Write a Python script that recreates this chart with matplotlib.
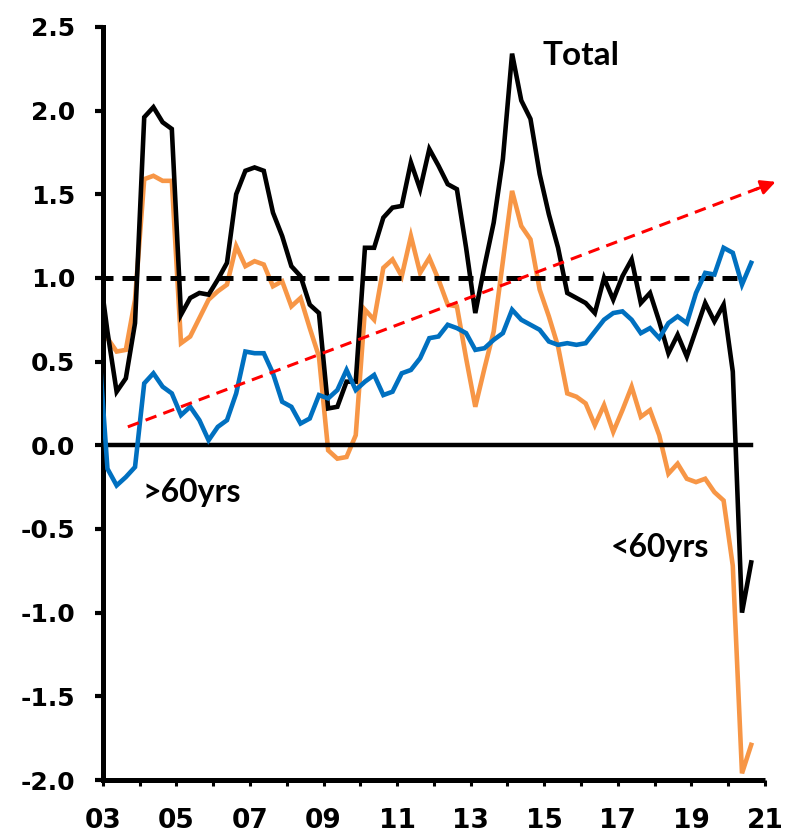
import numpy as np
import matplotlib
matplotlib.use('Agg')
import matplotlib.pyplot as plt

# quarterly series, first value (2002Q4) sits just left of the axis and is clipped
start_year = 2002.875
total = [1.10, 0.68, 0.32, 0.40, 0.73, 1.96, 2.02, 1.93, 1.89, 0.78, 0.88, 0.91,
         0.90, 0.99, 1.09, 1.50, 1.64, 1.66, 1.64, 1.39, 1.25, 1.07, 1.01, 0.84,
         0.79, 0.22, 0.23, 0.38, 0.38, 1.18, 1.18, 1.36, 1.42, 1.43, 1.69, 1.53,
         1.77, 1.67, 1.56, 1.53, 1.18, 0.79, 1.07, 1.33, 1.71, 2.34, 2.06, 1.95,
         1.62, 1.38, 1.18, 0.91, 0.88, 0.85, 0.79, 1.00, 0.87, 1.01, 1.11, 0.85,
         0.91, 0.74, 0.55, 0.66, 0.53, 0.69, 0.85, 0.74, 0.84, 0.44, -1.00, -0.70]
under60 = [0.85, 0.64, 0.56, 0.57, 0.87, 1.59, 1.61, 1.58, 1.58, 0.61, 0.65, 0.76,
           0.87, 0.92, 0.96, 1.19, 1.07, 1.10, 1.08, 0.95, 0.98, 0.83, 0.88, 0.70,
           0.53, -0.03, -0.08, -0.07, 0.06, 0.81, 0.75, 1.06, 1.11, 1.01, 1.25, 1.03,
           1.12, 0.99, 0.84, 0.83, 0.52, 0.23, 0.46, 0.68, 1.10, 1.52, 1.31, 1.23,
           0.93, 0.77, 0.59, 0.31, 0.29, 0.25, 0.12, 0.24, 0.08, 0.21, 0.35, 0.17,
           0.21, 0.06, -0.17, -0.11, -0.20, -0.22, -0.20, -0.28, -0.33, -0.72, -1.96, -1.79]
over60 = [0.65, -0.14, -0.24, -0.19, -0.13, 0.37, 0.43, 0.35, 0.31, 0.18, 0.23, 0.15,
          0.03, 0.11, 0.15, 0.31, 0.56, 0.55, 0.55, 0.43, 0.26, 0.23, 0.13, 0.16,
          0.30, 0.28, 0.33, 0.45, 0.33, 0.38, 0.42, 0.30, 0.32, 0.43, 0.45, 0.52,
          0.64, 0.65, 0.72, 0.70, 0.67, 0.57, 0.58, 0.63, 0.67, 0.81, 0.75, 0.72,
          0.69, 0.62, 0.60, 0.61, 0.60, 0.61, 0.68, 0.75, 0.79, 0.80, 0.75, 0.67,
          0.70, 0.64, 0.73, 0.77, 0.73, 0.91, 1.03, 1.02, 1.18, 1.15, 0.96, 1.09]

years = list(range(2003, 2022))
year_labels = [f'{y % 100:02d}' if y % 2 == 1 else '' for y in years]
yticks = [-2.0, -1.5, -1.0, -0.5, 0.0, 0.5, 1.0, 1.5, 2.0, 2.5]

# trend arrow (start, tip) in data units
arrow_start = (2003.68, 0.11)
arrow_end = (2021.36, 1.58)

plt.rcParams['axes.unicode_minus'] = False

x = start_year + 0.25 * np.arange(len(total))

fig = plt.figure(figsize=(7.85, 8.39), dpi=100)
ax = fig.add_axes([0.131, 0.0703, 0.8435, 0.8977])

ax.plot(x, under60, color='#F79646', lw=3.3, zorder=2, solid_joinstyle='miter')
ax.plot([x[0], x[-1]], [0, 0], color='black', lw=3.2, zorder=2.5)
ax.plot([x[0], x[-2]], [1, 1], color='black', lw=3.6, zorder=2.6,
        linestyle=(0, (3, 1.8)))
ax.plot(x, total, color='black', lw=3.3, zorder=3, solid_joinstyle='miter')
ax.plot(x, over60, color='#0070C0', lw=3.3, zorder=4, solid_joinstyle='miter')

# dashed red trend line with a solid head
dx = arrow_end[0] - arrow_start[0]
dy = arrow_end[1] - arrow_start[1]
ax.plot([arrow_start[0], arrow_start[0] + 0.97 * dx],
        [arrow_start[1], arrow_start[1] + 0.97 * dy],
        color='red', lw=2.2, linestyle=(0, (3.8, 2.4)), clip_on=False, zorder=5)
ax.annotate('', xy=arrow_end,
            xytext=(arrow_start[0] + 0.96 * dx, arrow_start[1] + 0.96 * dy),
            arrowprops=dict(arrowstyle='-|>', color='red', lw=2.0,
                            mutation_scale=22),
            annotation_clip=False, zorder=5)

ax.text(2014.96, 2.33, 'Total', fontsize=24, fontfamily='Lato',
        fontweight='bold', va='center', ha='left')
ax.text(2004.09, -0.28, '>60yrs', fontsize=23, fontfamily='Lato',
        fontweight='bold', va='center', ha='left')
ax.text(2016.81, -0.61, '<60yrs', fontsize=23, fontfamily='Lato',
        fontweight='bold', va='center', ha='left')

ax.set_xlim(2003, 2021)
ax.set_ylim(-2.0, 2.5)
ax.set_xticks(years)
ax.set_xticklabels(year_labels)
ax.set_yticks(yticks)
ax.set_yticklabels([f'{v:.1f}' for v in yticks])

for side in ['top', 'right']:
    ax.spines[side].set_visible(False)
for side in ['left', 'bottom']:
    ax.spines[side].set_linewidth(3.6)
ax.spines['bottom'].set_capstyle('butt')

ax.tick_params(axis='y', direction='out', length=6, width=3.0, pad=14,
               labelsize=18)
ax.tick_params(axis='x', direction='out', length=4, width=2.2, pad=16,
               labelsize=19)
for lab in ax.get_xticklabels() + ax.get_yticklabels():
    lab.set_fontweight('bold')

fig.savefig('out.png', dpi=100)
